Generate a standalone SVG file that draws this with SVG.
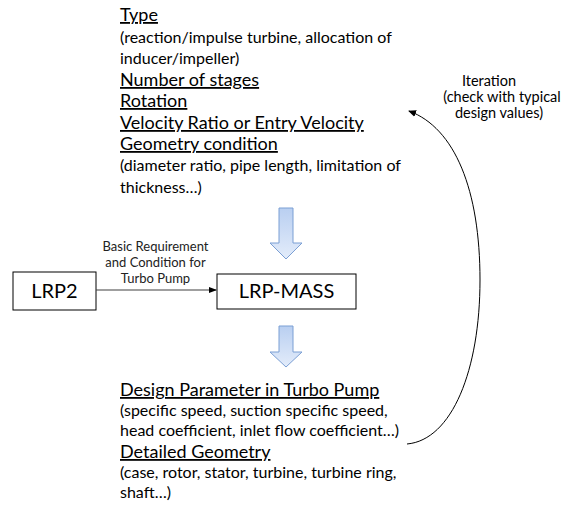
<svg xmlns="http://www.w3.org/2000/svg" width="568" height="506" viewBox="0 0 568 506">
<style>
  text { font-family: Lato, "Liberation Sans", sans-serif; fill: #000; }
  .h { font-size: 18px; text-decoration: underline; }
  .b { font-size: 16px; }
  .lbl { font-size: 13px; text-anchor: middle; fill: #222; }
  .it { font-size: 14.5px; text-anchor: middle; }
  .box { fill: #fff; stroke: #000; stroke-width: 1; }
  .boxt { font-size: 20px; text-anchor: middle; }
  .blk { fill: url(#bg); stroke: #7b9fd4; stroke-width: 1; }
  .con { fill: none; stroke: #404040; stroke-width: 1.2; }
  .cur { fill: none; stroke: #000; stroke-width: 1; }
</style>
<defs>
  <linearGradient id="bg" x1="0" y1="0" x2="0" y2="1">
    <stop offset="0" stop-color="#b9cff1"/>
    <stop offset="1" stop-color="#e3ecfa"/>
  </linearGradient>
  <marker id="ah" markerWidth="8" markerHeight="8" refX="7" refY="4" orient="auto" markerUnits="userSpaceOnUse">
    <path d="M0,0.5 L8,4 L0,7.5 Z" fill="#000"/>
  </marker>
  <marker id="ah2" markerWidth="8" markerHeight="8" refX="7" refY="4" orient="auto" markerUnits="userSpaceOnUse">
    <path d="M0,1 L8,4 L0,7 Z" fill="#000"/>
  </marker>
</defs>

<g id="requirements">
  <text class="h" x="120" y="21">Type</text>
  <text class="b" x="120" y="43">(reaction/impulse turbine, allocation of</text>
  <text class="b" x="120" y="64">inducer/impeller)</text>
  <text class="h" x="120" y="86">Number of stages</text>
  <text class="h" x="120" y="107">Rotation</text>
  <text class="h" x="120" y="129">Velocity Ratio or Entry Velocity</text>
  <text class="h" x="120" y="150">Geometry condition</text>
  <text class="b" x="120" y="171">(diameter ratio, pipe length, limitation of</text>
  <text class="b" x="120" y="193">thickness…)</text>
</g>

<g id="arrow-down-1">
  <path class="blk" d="M279,208 H293 V243 H302 L286,259 L270,243 H279 Z"/>
</g>

<g id="lrp2">
  <rect class="box" x="13" y="272" width="83" height="38"/>
  <text class="boxt" x="54.5" y="298">LRP2</text>
</g>

<g id="lrp-mass">
  <rect class="box" x="217" y="274" width="139" height="35"/>
  <text class="boxt" x="286.5" y="298">LRP-MASS</text>
</g>

<g id="arrow-down-2">
  <path class="blk" d="M279,326 H293 V352 H302 L286,367 L270,352 H279 Z"/>
</g>

<g id="design">
  <text class="h" x="120" y="396">Design Parameter in Turbo Pump</text>
  <text class="b" x="120" y="416">(specific speed, suction specific speed,</text>
  <text class="b" x="120" y="436">head coefficient, inlet flow coefficient…)</text>
  <text class="h" x="120" y="458">Detailed Geometry</text>
  <text class="b" x="120" y="478">(case, rotor, stator, turbine, turbine ring,</text>
  <text class="b" x="120" y="498">shaft…)</text>
</g>

<g id="iteration-label">
  <text class="it" x="489" y="86">Iteration</text>
  <text class="it" x="502" y="102">(check with typical</text>
  <text class="it" x="499" y="118">design values)</text>
</g>

<g id="connectors">
  <line class="con" x1="96" y1="290" x2="216" y2="290" marker-end="url(#ah2)"/>
  <text class="lbl" x="155.5" y="251">Basic Requirement</text>
  <text class="lbl" x="155.5" y="267">and Condition for</text>
  <text class="lbl" x="155.5" y="283">Turbo Pump</text>
  <path class="cur" d="M407,444 C452,440 480,370 480,280 C480,190 455,128 409,111" marker-end="url(#ah)"/>
</g>
</svg>
